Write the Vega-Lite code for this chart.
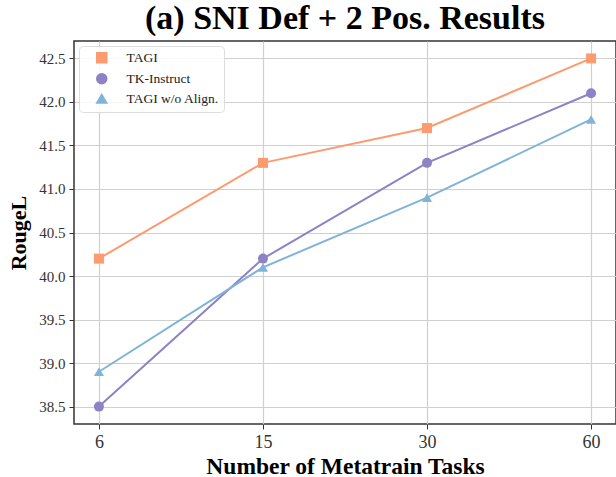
{
  "$schema": "https://vega.github.io/schema/vega-lite/v6.json",
  "width": 542,
  "height": 383,
  "autosize": {"type": "none"},
  "padding": {"left": 74, "top": 41, "right": 0, "bottom": 53},
  "background": "white",
  "title": {
    "text": "(a) SNI Def + 2 Pos. Results",
    "font": "Liberation Serif",
    "fontSize": 34,
    "fontWeight": "bold",
    "color": "#000000",
    "anchor": "middle",
    "offset": 5
  },
  "config": {
    "view": {"stroke": "#333333", "strokeWidth": 1.5},
    "font": "Liberation Serif",
    "axis": {
      "gridColor": "#d0d0d0",
      "gridWidth": 1.2,
      "domain": false,
      "tickColor": "#333333",
      "tickSize": 5,
      "labelFont": "Liberation Serif",
      "labelColor": "#333333",
      "titleFont": "Liberation Serif",
      "titleFontWeight": "bold",
      "titleColor": "#000000"
    }
  },
  "data": {
    "values": [
      {"tasks": "6", "series": "TAGI", "rouge": 40.2},
      {"tasks": "15", "series": "TAGI", "rouge": 41.3},
      {"tasks": "30", "series": "TAGI", "rouge": 41.7},
      {"tasks": "60", "series": "TAGI", "rouge": 42.5},
      {"tasks": "6", "series": "TK-Instruct", "rouge": 38.5},
      {"tasks": "15", "series": "TK-Instruct", "rouge": 40.2},
      {"tasks": "30", "series": "TK-Instruct", "rouge": 41.3},
      {"tasks": "60", "series": "TK-Instruct", "rouge": 42.1},
      {"tasks": "6", "series": "TAGI w/o Align.", "rouge": 38.9},
      {"tasks": "15", "series": "TAGI w/o Align.", "rouge": 40.1},
      {"tasks": "30", "series": "TAGI w/o Align.", "rouge": 40.9},
      {"tasks": "60", "series": "TAGI w/o Align.", "rouge": 41.8}
    ]
  },
  "encoding": {
    "x": {
      "field": "tasks",
      "type": "ordinal",
      "sort": ["6", "15", "30", "60"],
      "scale": {"type": "point", "padding": 0.152},
      "axis": {
        "title": "Number of Metatrain Tasks",
        "titleFontSize": 23.5,
        "labelAngle": 0,
        "labelFontSize": 18,
        "labelPadding": 4,
        "titlePadding": 3,
        "grid": true
      }
    },
    "y": {
      "field": "rouge",
      "type": "quantitative",
      "scale": {"domain": [38.3, 42.7], "nice": false, "zero": false},
      "axis": {
        "title": "RougeL",
        "titleFontSize": 22,
        "values": [38.5, 39.0, 39.5, 40.0, 40.5, 41.0, 41.5, 42.0, 42.5],
        "format": ".1f",
        "labelFontSize": 15,
        "labelPadding": 4,
        "titlePadding": 8,
        "grid": true
      }
    },
    "color": {
      "field": "series",
      "type": "nominal",
      "sort": ["TAGI", "TK-Instruct", "TAGI w/o Align."],
      "scale": {
        "domain": ["TAGI", "TK-Instruct", "TAGI w/o Align."],
        "range": ["#FC9A70", "#8E82C6", "#80B3D8"]
      },
      "legend": {
        "title": null,
        "orient": "top-left",
        "offset": 5,
        "labelFont": "Liberation Serif",
        "labelFontSize": 13.5,
        "labelColor": "#222222",
        "symbolSize": 100,
        "symbolOffset": 11,
        "labelOffset": 18,
        "rowPadding": 4,
        "padding": 5,
        "strokeColor": "#dddddd",
        "fillColor": "rgba(255,255,255,0.85)",
        "cornerRadius": 4
      }
    }
  },
  "layer": [
    {"mark": {"type": "line", "strokeWidth": 2}},
    {
      "mark": {"type": "point", "filled": true, "size": 100, "opacity": 1},
      "encoding": {
        "shape": {
          "field": "series",
          "type": "nominal",
          "sort": ["TAGI", "TK-Instruct", "TAGI w/o Align."],
          "scale": {
            "domain": ["TAGI", "TK-Instruct", "TAGI w/o Align."],
            "range": ["square", "circle", "triangle-up"]
          }
        }
      }
    }
  ]
}
